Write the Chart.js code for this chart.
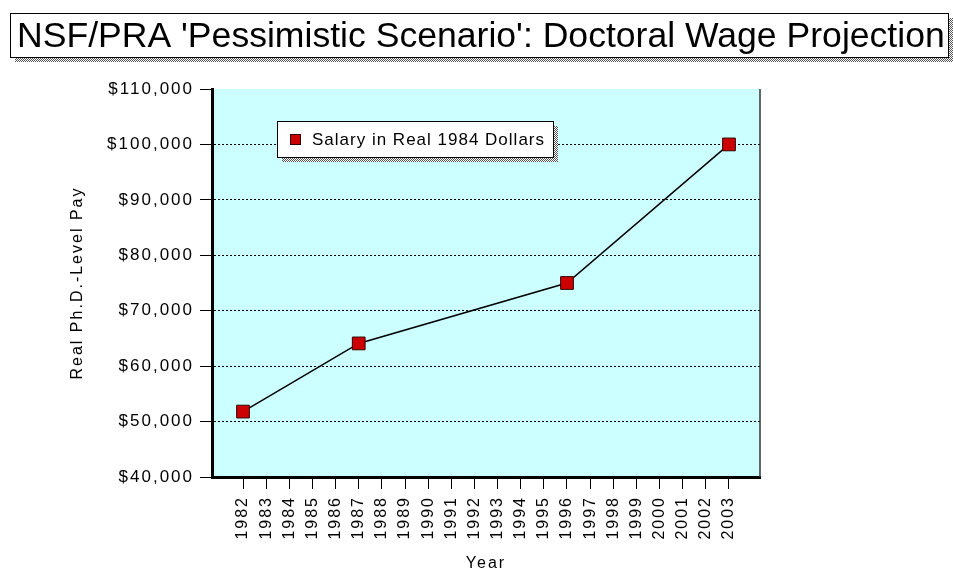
<!DOCTYPE html>
<html>
<head>
<meta charset="utf-8">
<script src="https://cdn.jsdelivr.net/npm/chart.js@4/dist/chart.umd.min.js"></script>
<style>
  body { margin: 0; background: #fff; }
  canvas { display: block; }
</style>
</head>
<body>
<canvas id="grafico" width="953" height="573"></canvas>
<script>
// Datos
const titulo = "NSF/PRA 'Pessimistic Scenario': Doctoral Wage Projection";
const etiquetaSerie = "Salary in Real 1984 Dollars";
const anios = [1982, 1983, 1984, 1985, 1986, 1987, 1988, 1989, 1990, 1991, 1992,
               1993, 1994, 1995, 1996, 1997, 1998, 1999, 2000, 2001, 2002, 2003];
const aniosPuntos = [1982, 1987, 1996, 2003];
const salario = [51800, 64100, 75000, 100000];
const ticksY = [40000, 50000, 60000, 70000, 80000, 90000, 100000, 110000];

const FUENTE = "'Liberation Sans', Arial, Helvetica, sans-serif";

// Trama gris tipo "sombra" de Mac
function tramaSombra(ctx) {
    const c = document.createElement("canvas");
    c.width = 2; c.height = 2;
    const g = c.getContext("2d");
    g.fillStyle = "#ffffff"; g.fillRect(0, 0, 2, 2);
    g.fillStyle = "#555555"; g.fillRect(0, 0, 1, 1); g.fillRect(1, 1, 1, 1);
    return ctx.createPattern(c, "repeat");
}

function cajaConSombra(ctx, x, y, w, h, off) {
    ctx.fillStyle = tramaSombra(ctx);
    ctx.fillRect(x + off, y + off, w, h);
    ctx.fillStyle = "#ffffff";
    ctx.fillRect(x, y, w, h);
    ctx.strokeStyle = "#000000";
    ctx.lineWidth = 1;
    ctx.strokeRect(x + 0.5, y + 0.5, w, h);
}

const fondoYMarcos = {
    id: "fondoYMarcos",
    beforeUpdate(chart) { chart.ctx.letterSpacing = "2px"; },
    beforeDraw(chart) {
        const { ctx, chartArea: a } = chart;
        ctx.save();
        ctx.fillStyle = "#ccffff";
        ctx.fillRect(a.left, a.top, a.right - a.left, a.bottom - a.top);
        ctx.restore();
        ctx.letterSpacing = "2px";
    },
    afterDraw(chart) {
        const { ctx, chartArea: a } = chart;
        ctx.save();
        ctx.letterSpacing = "0px";
        // borde derecho del area
        ctx.strokeStyle = "#333333";
        ctx.lineWidth = 1.5;
        ctx.beginPath();
        ctx.moveTo(a.right, a.top);
        ctx.lineTo(a.right, a.bottom);
        ctx.stroke();

        // titulo
        cajaConSombra(ctx, 10, 13, 938, 44, 5);
        ctx.fillStyle = "#000000";
        ctx.font = "35.6px " + FUENTE;
        ctx.textBaseline = "alphabetic";
        ctx.textAlign = "left";
        ctx.fillText(titulo, 17, 47);

        // leyenda
        const ds = chart.data.datasets[0];
        cajaConSombra(ctx, 277, 121, 276, 36, 5);
        ctx.fillStyle = ds.pointBackgroundColor;
        ctx.fillRect(290, 134, 11, 11);
        ctx.strokeStyle = ds.pointBorderColor;
        ctx.strokeRect(290.5, 134.5, 10, 10);
        ctx.fillStyle = "#000000";
        ctx.letterSpacing = "1px";
        ctx.font = "17px " + FUENTE;
        ctx.textBaseline = "middle";
        ctx.fillText(ds.label, 312, 140);
        ctx.restore();
    }
};

new Chart(document.getElementById("grafico").getContext("2d"), {
    type: "line",
    data: {
        datasets: [{
            label: etiquetaSerie,
            data: aniosPuntos.map((a, i) => ({ x: a, y: salario[i] })),
            borderColor: "#000000",
            borderWidth: 1.5,
            pointStyle: "rect",
            pointRadius: 9,
            pointBackgroundColor: "#cc0000",
            pointBorderColor: "#330000",
            pointBorderWidth: 1,
            tension: 0
        }]
    },
    options: {
        responsive: false,
        animation: false,
        events: [],
        layout: { padding: { top: 89, right: 193, bottom: 0, left: 0 } },
        plugins: { legend: { display: false }, tooltip: { enabled: false } },
        scales: {
            x: {
                type: "linear",
                min: 1980.66,
                max: 2004.34,
                afterBuildTicks: s => { s.ticks = anios.map(v => ({ value: v })); },
                afterFit: s => { s.height = 96; },
                ticks: {
                    autoSkip: false,
                    minRotation: 90,
                    maxRotation: 90,
                    padding: 7,
                    color: "#000000",
                    font: { family: FUENTE, size: 16 },
                    callback: v => String(v)
                },
                grid: { drawOnChartArea: false, tickLength: 12, tickColor: "#000000", tickWidth: 1 },
                border: { color: "#000000", width: 3 },
                title: {
                    display: true,
                    text: "Year",
                    color: "#000000",
                    font: { family: FUENTE, size: 16 },
                    padding: { top: 0, bottom: 0 }
                }
            },
            y: {
                min: 40000,
                max: 110000,
                afterBuildTicks: s => { s.ticks = ticksY.map(v => ({ value: v })); },
                afterFit: s => { s.width = 212; },
                ticks: {
                    padding: 6,
                    color: "#000000",
                    font: { family: FUENTE, size: 17 },
                    callback: v => "$" + v.toLocaleString("en-US")
                },
                grid: {
                    color: c => (c.tick && (c.tick.value === 110000 || c.tick.value === 40000)) ? "rgba(0,0,0,0)" : "#000000",
                    lineWidth: 1,
                    tickLength: 12,
                    tickColor: "#000000",
                    tickWidth: 1,
                    tickBorderDash: []
                },
                border: { color: "#000000", width: 3, dash: [2, 2] },
                title: {
                    display: true,
                    text: "Real Ph.D.-Level Pay",
                    color: "#000000",
                    font: { family: FUENTE, size: 16 },
                    padding: { top: 68, bottom: 0 }
                }
            }
        }
    },
    plugins: [fondoYMarcos]
});
</script>
</body>
</html>
